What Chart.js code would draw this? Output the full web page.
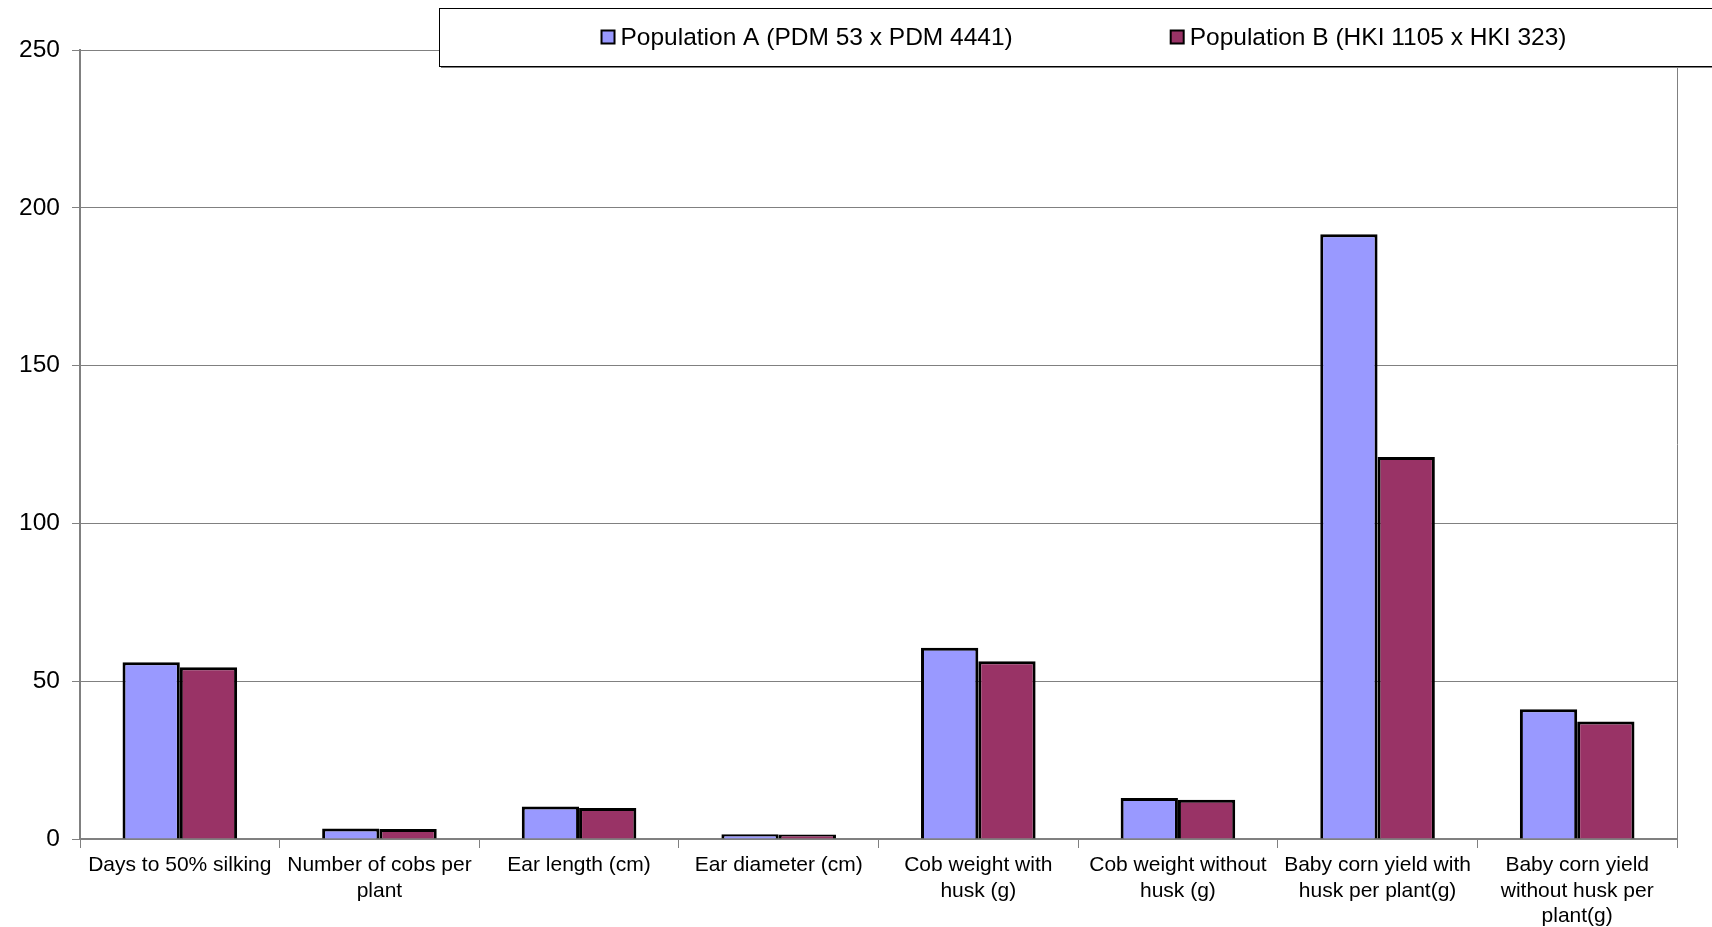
<!DOCTYPE html>
<html>
<head>
<meta charset="utf-8">
<script src="https://cdn.jsdelivr.net/npm/chart.js@4.4.1/dist/chart.umd.min.js"></script>
<style>
  html, body { margin: 0; padding: 0; background: #fff; }
  #wrap { width: 1712px; height: 927px; }
</style>
</head>
<body>
<div id="wrap"><canvas id="chart"></canvas></div>
<script>
// data
const categories = [
  'Days to 50% silking',
  ['Number of cobs per', 'plant'],
  'Ear length (cm)',
  'Ear diameter (cm)',
  ['Cob weight with', 'husk (g)'],
  ['Cob weight without', 'husk (g)'],
  ['Baby corn yield with', 'husk per plant(g)'],
  ['Baby corn yield', 'without husk per', 'plant(g)']
];
const popA = [56.0, 3.3, 10.3, 1.5, 60.6, 13.0, 191.6, 41.1];
const popB = [54.4, 3.2, 9.8, 1.4, 56.3, 12.4, 121.0, 37.2];
const seriesNames = ['Population A (PDM 53 x PDM 4441)', 'Population B (HKI 1105 x HKI 323)'];
const yTicks = [0, 50, 100, 150, 200, 250];

const colorA = '#9999ff';
const colorB = '#993366';
const font = 'Liberation Sans, Arial, sans-serif';

// frame round the plot + the legend box on top of it
const framePlugin = {
  id: 'frame',
  afterDraw(chart) {
    const ctx = chart.ctx;
    const a = chart.chartArea;
    ctx.save();
    ctx.strokeStyle = '#808080';
    ctx.lineWidth = 1;
    ctx.beginPath();
    ctx.moveTo(a.right + 0.5, a.top);
    ctx.lineTo(a.right + 0.5, a.bottom);
    ctx.stroke();

    // legend box
    const bx = 439, by = 8, bw = 1290, bh = 58;
    ctx.fillStyle = '#808080';
    ctx.fillRect(bx + 2, by + 2, bw, bh);
    ctx.fillStyle = '#fff';
    ctx.fillRect(bx, by, bw, bh);
    ctx.strokeStyle = '#000';
    ctx.strokeRect(bx + 0.5, by + 0.5, bw, bh);

    ctx.font = '24.5px ' + font;
    ctx.textBaseline = 'middle';
    const box = 13, gap = 6, between = 158;
    const widths = seriesNames.map(n => ctx.measureText(n).width);
    const total = box + gap + widths[0] + between + box + gap + widths[1];
    let x = bx + bw / 2 - total / 2;
    const cy = by + bh / 2;
    chart.data.datasets.forEach((ds, i) => {
      ctx.fillStyle = ds.backgroundColor;
      ctx.fillRect(x, cy - box / 2, box, box);
      ctx.strokeStyle = '#000';
      ctx.lineWidth = 2;
      ctx.strokeRect(x, cy - box / 2, box, box);
      ctx.fillStyle = '#000';
      ctx.fillText(seriesNames[i], x + box + gap, cy + 1);
      x += box + gap + widths[i] + between;
    });
    ctx.restore();
  }
};

new Chart(document.getElementById('chart'), {
  type: 'bar',
  data: {
    labels: categories,
    datasets: [
      { label: seriesNames[0], data: popA, backgroundColor: colorA, borderColor: '#000', borderWidth: 3 },
      { label: seriesNames[1], data: popB, backgroundColor: colorB, borderColor: '#000', borderWidth: 3 }
    ]
  },
  options: {
    responsive: true,
    maintainAspectRatio: false,
    animation: false,
    layout: { padding: { top: 50, right: 35, left: 0, bottom: 0 } },
    datasets: { bar: { categoryPercentage: 0.574, barPercentage: 1 } },
    plugins: { legend: { display: false }, tooltip: { enabled: false } },
    scales: {
      x: {
        offset: true,
        grid: { offset: true, drawOnChartArea: false, drawTicks: true, tickLength: 9, color: '#808080' },
        border: { color: '#808080', width: 2 },
        ticks: { color: '#000', font: { family: font, size: 21 }, padding: 5, maxRotation: 0, autoSkip: false },
        afterFit(scale) { scale.height = 88; }
      },
      y: {
        min: 0,
        max: 250,
        afterBuildTicks(scale) { scale.ticks = yTicks.map(v => ({ value: v })); },
        grid: { color: '#808080', tickLength: 8, drawTicks: true },
        border: { color: '#808080', width: 2 },
        ticks: { color: '#000', font: { family: font, size: 24.5 }, padding: 12 },
        afterFit(scale) { scale.width = 80; }
      }
    }
  },
  plugins: [framePlugin]
});
</script>
</body>
</html>
